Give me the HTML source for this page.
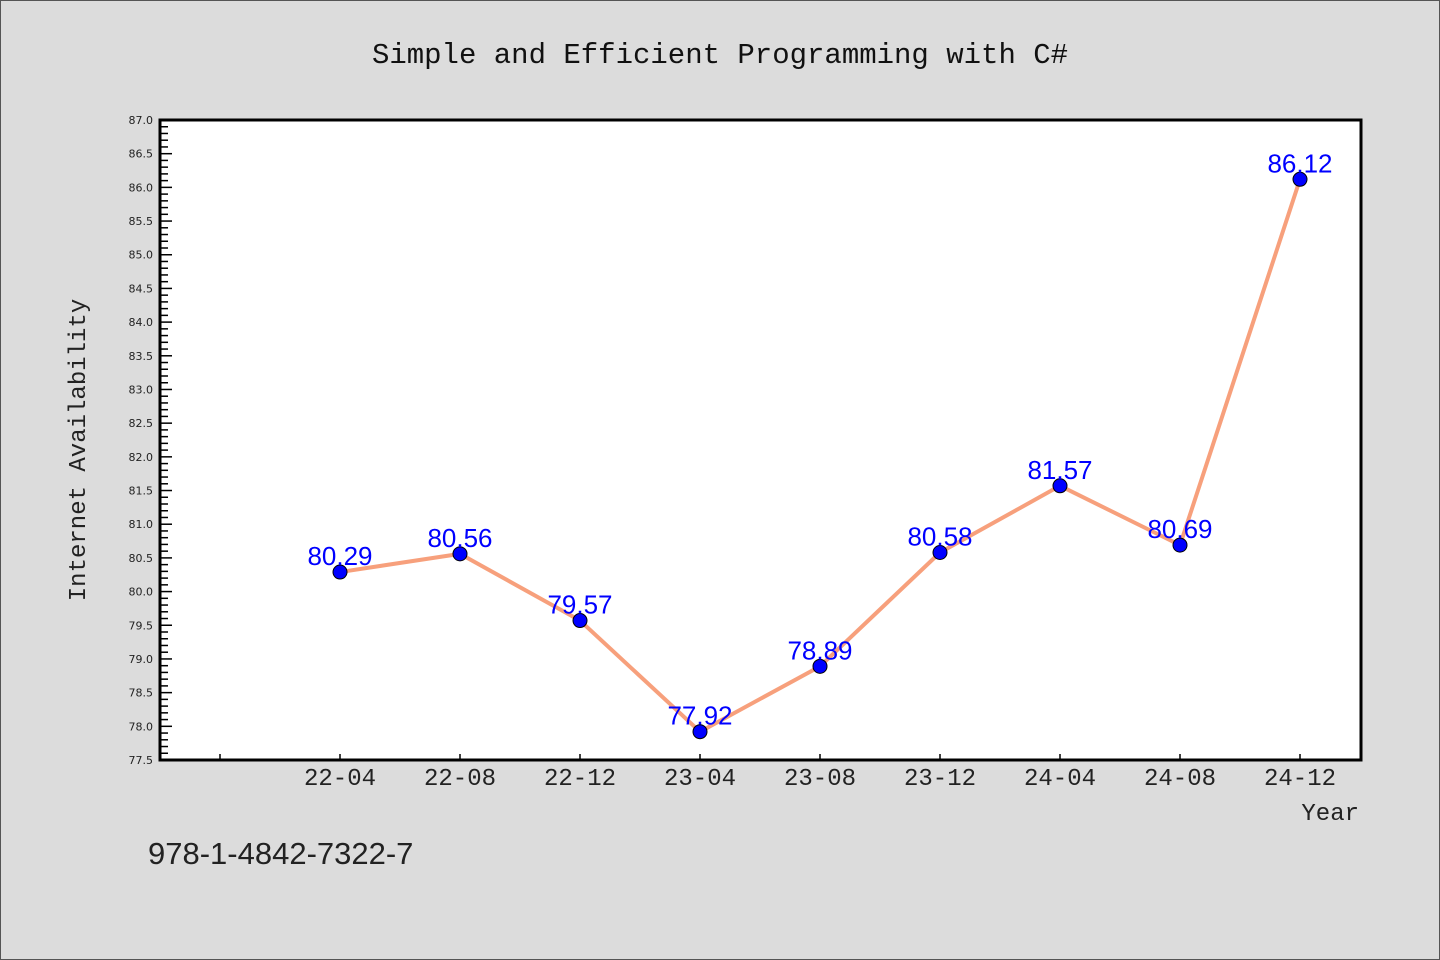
<!DOCTYPE html>
<html><head><meta charset="utf-8"><style>
html,body{margin:0;padding:0;background:#dcdcdc;}
svg{display:block;font-family:"Liberation Mono","DejaVu Sans Mono",monospace;}
</style></head><body>
<svg id="chart" width="1440" height="960" xmlns="http://www.w3.org/2000/svg">
<rect x="0.5" y="0.5" width="1439" height="959" fill="#dcdcdc" stroke="#555" stroke-width="1"/>
<text x="720" y="63" text-anchor="middle" font-size="29" fill="#111">Simple and Efficient Programming with C#</text>
<rect x="160" y="120" width="1201" height="640" fill="#fff"/>
<g id="yaxis"></g>
<g id="xaxis"></g>
<g id="series"></g>
<rect x="160" y="120" width="1201" height="640" fill="none" stroke="#000" stroke-width="3"/>
<text transform="translate(85,450) rotate(-90)" text-anchor="middle" font-size="24" fill="#222">Internet Availability</text>
<text x="1359" y="820" text-anchor="end" font-size="24" fill="#222">Year</text>
<text x="148" y="864" font-family="Liberation Sans, sans-serif" font-size="31" fill="#222">978-1-4842-7322-7</text>
</svg>
<script>
const categories = ["22-04","22-08","22-12","23-04","23-08","23-12","24-04","24-08","24-12"];
const values = [80.29,80.56,79.57,77.92,78.89,80.58,81.57,80.69,86.12];
const yTickLabels = ["77.5","78.0","78.5","79.0","79.5","80.0","80.5","81.0","81.5","82.0","82.5","83.0","83.5","84.0","84.5","85.0","85.5","86.0","86.5","87.0"];
const yMin = 77.5, yMax = 87.0;
const NS = "http://www.w3.org/2000/svg";
const L=160,T=120,B=760;
function y(v){return B-(v-yMin)/(yMax-yMin)*(B-T);}
function x(i){return 340+i*120;}
function mk(tag,attrs,parent){const e=document.createElementNS(NS,tag);for(const k in attrs)e.setAttribute(k,attrs[k]);parent.appendChild(e);return e;}
const ya=document.getElementById('yaxis'), xa=document.getElementById('xaxis'), sg=document.getElementById('series');
// minor ticks every 0.1
for(let k=0;k<=Math.round((yMax-yMin)*10);k++){
  const v=yMin+k*0.1, major=k%5===0;
  const t=mk('line',{x1:L,x2:L+(major?12:8),y1:y(v),y2:y(v),stroke:'#000','stroke-width':1.5},ya);
  
  
}
yTickLabels.forEach(s=>{
  const t=mk('text',{x:153,y:y(parseFloat(s))+4,'text-anchor':'end','font-size':11,'font-family':'DejaVu Sans, sans-serif',fill:'#222'},ya);
  t.textContent=s;
  
  
});
// x ticks (one extra before first category)
for(let i=-1;i<categories.length;i++){
  const t=mk('line',{x1:x(i),x2:x(i),y1:B,y2:B-6,stroke:'#000','stroke-width':1.5},xa);
  
  
}
categories.forEach((c,i)=>{
  const t=mk('text',{x:x(i),y:785,'text-anchor':'middle','font-size':24,fill:'#222'},xa);
  t.textContent=c;
  
  
});
const pl=mk('polyline',{points:values.map((v,i)=>x(i)+','+y(v)).join(' '),fill:'none',stroke:'#f7a07c','stroke-width':4,'stroke-linejoin':'round'},sg);


values.forEach((v,i)=>{
  const c=mk('circle',{cx:x(i),cy:y(v),r:7,fill:'#0000ff',stroke:'#000','stroke-width':1},sg);
  
  
  const t=mk('text',{x:x(i),y:y(v)-7,'text-anchor':'middle','font-size':26,'font-family':'Liberation Sans, sans-serif',fill:'#0000ff'},sg);
  t.textContent=v.toFixed(2);
  
  
});
</script>
</body></html>
